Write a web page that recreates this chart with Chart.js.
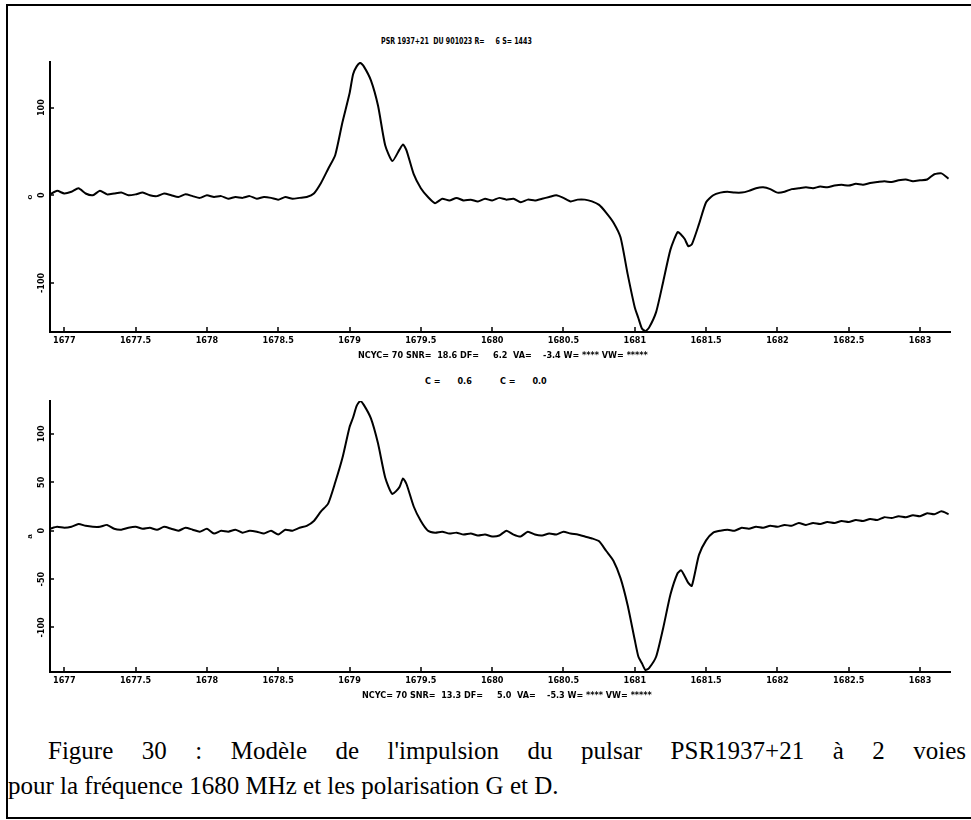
<!DOCTYPE html>
<html>
<head>
<meta charset="utf-8">
<script src="https://cdn.jsdelivr.net/npm/chart.js@4/dist/chart.umd.min.js"></script>
<style>
  html, body { margin: 0; padding: 0; background: #fff; }
  body { width: 971px; height: 820px; position: relative; overflow: hidden; }
  .frame { position: absolute; left: 6px; top: 4px; width: 990px; height: 811px;
           border-top: 2px solid #000; border-left: 2px solid #000; border-bottom: 2px solid #000; }
  .plot { position: absolute; left: 0; }
  .info { position: absolute; color: #000; white-space: pre; line-height: 10px;
          font: bold 9px "Liberation Sans Narrow", "DejaVu Sans Condensed", "Liberation Sans", sans-serif; }
  .narrow { transform: scaleX(0.78); transform-origin: 0 0; }
  .caption { position: absolute; color: #000; line-height: 26px;
             font: 25px "Liberation Serif", "Times New Roman", serif; }
  #cap1 { left: 48px; width: 918px; text-align: justify; text-align-last: justify; }
  #cap2 { left: 8px; white-space: nowrap; }
</style>
</head>
<body>
<div class="frame"></div>

<div class="info narrow" style="left:381px; top:36px;">PSR 1937+21  DU 901023 R=     6 S= 1443</div>

<canvas id="chartG" class="plot" width="971" height="320" style="top:40px;"></canvas>
<div class="info" style="left:358px; top:350px;">NCYC= 70 SNR=  18.6 DF=     6.2  VA=    -3.4 W= **** VW= *****</div>
<div class="info" style="left:425px; top:376px;">C =      0.6          C =      0.0</div>

<canvas id="chartD" class="plot" width="971" height="320" style="top:380px;"></canvas>
<div class="info" style="left:362px; top:690px;">NCYC= 70 SNR=  13.3 DF=     5.0  VA=    -5.3 W= **** VW= *****</div>

<div id="cap1" class="caption" style="top:737px;">Figure 30 : Modèle de l'impulsion du pulsar PSR1937+21 à 2 voies</div>
<div id="cap2" class="caption" style="top:772px;">pour la fréquence 1680 MHz et les polarisation G et D.</div>

<script>
// pulse phase axis (same sampling for both channels)
const phase = [
  1676.90, 1676.95, 1677.00, 1677.05, 1677.10, 1677.15, 1677.20, 1677.25, 1677.30, 1677.35,
  1677.40, 1677.45, 1677.50, 1677.55, 1677.60, 1677.65, 1677.70, 1677.75, 1677.80, 1677.85,
  1677.90, 1677.95, 1678.00, 1678.05, 1678.10, 1678.15, 1678.20, 1678.25, 1678.30, 1678.35,
  1678.40, 1678.45, 1678.50, 1678.55, 1678.60, 1678.65, 1678.70, 1678.75, 1678.80, 1678.85,
  1678.90, 1678.95, 1679.00, 1679.025, 1679.05, 1679.075, 1679.10, 1679.15, 1679.20, 1679.25,
  1679.30, 1679.35, 1679.375, 1679.40, 1679.45, 1679.50, 1679.55, 1679.60, 1679.65, 1679.70,
  1679.75, 1679.80, 1679.85, 1679.90, 1679.95, 1680.00, 1680.05, 1680.10, 1680.15, 1680.20,
  1680.25, 1680.30, 1680.35, 1680.40, 1680.45, 1680.50, 1680.55, 1680.60, 1680.65, 1680.70,
  1680.75, 1680.80, 1680.85, 1680.90, 1680.95, 1681.00, 1681.025, 1681.05, 1681.075, 1681.10,
  1681.15, 1681.20, 1681.25, 1681.30, 1681.325, 1681.35, 1681.375, 1681.40, 1681.45, 1681.50,
  1681.55, 1681.60, 1681.65, 1681.70, 1681.75, 1681.80, 1681.85, 1681.90, 1681.95, 1682.00,
  1682.05, 1682.10, 1682.15, 1682.20, 1682.25, 1682.30, 1682.35, 1682.40, 1682.45, 1682.50,
  1682.55, 1682.60, 1682.65, 1682.70, 1682.75, 1682.80, 1682.85, 1682.90, 1682.95, 1683.00,
  1683.05, 1683.10, 1683.15, 1683.20
];

// polarisation G (upper panel)
const profileG = [
  1, 5, 2, 4, 8, 2, 0, 5, 1, 2,
  3, 0, 1, 3, 0, -1, 2, 0, -2, 1,
  -1, -3, 0, -2, -1, -4, -2, -3, -1, -4,
  -2, -3, -5, -2, -4, -3, -2, 2, 14, 30,
  46, 83, 116, 138, 147, 151, 147, 131, 102, 57,
  39, 52, 58, 51, 24, 8, -2, -9, -4, -6,
  -3, -6, -5, -7, -4, -6, -3, -5, -4, -8,
  -5, -6, -4, -2, 0, -3, -7, -5, -5, -7,
  -11, -20, -31, -48, -90, -128, -140, -152, -155, -151,
  -133, -98, -62, -42, -45, -50, -58, -56, -33, -8,
  0, 3, 4, 3, 3, 5, 8, 9, 7, 3,
  4, 7, 8, 9, 8, 10, 9, 11, 12, 11,
  13, 12, 14, 15, 16, 15, 17, 18, 16, 17,
  18, 24, 25, 19
];

// polarisation D (lower panel)
const profileD = [
  2, 4, 3, 4, 7, 5, 4, 4, 6, 2,
  1, 3, 4, 2, 3, 1, 4, 2, 0, 3,
  1, -1, 2, -3, 0, -1, 1, -2, 0, -1,
  -3, 0, -4, 1, 0, 3, 5, 10, 20, 28,
  50, 75, 107, 117, 129, 134, 130, 116, 90, 55,
  38, 45, 54, 48, 25, 10, 0, -2, -1, -3,
  -2, -4, -3, -5, -4, -6, -5, 0, -4, -6,
  -1, -4, -5, -3, -4, -1, -3, -4, -6, -8,
  -11, -21, -31, -49, -77, -113, -130, -137, -144, -142,
  -130, -100, -66, -44, -41, -47, -54, -57, -25, -10,
  -2, 0, 1, 0, 3, 2, 4, 3, 5, 4,
  6, 5, 8, 6, 8, 7, 9, 8, 10, 9,
  11, 10, 12, 11, 14, 13, 15, 14, 16, 15,
  18, 17, 20, 17
];

const xTickValues = [1677, 1677.5, 1678, 1678.5, 1679, 1679.5, 1680, 1680.5, 1681, 1681.5, 1682, 1682.5, 1683];
const xTickLabels = ["1677", "1677.5", "1678", "1678.5", "1679", "1679.5", "1680", "1680.5", "1681", "1681.5", "1682", "1682.5", "1683"];

const yTicksG = [-100, 0, 100];
const yLabelsG = ["-100", "0", "100"];
const yTicksD = [-100, -50, 0, 50, 100];
const yLabelsD = ["-100", "-50", "0", "50", "100"];

const tickFont = { family: "'Liberation Sans Narrow', 'DejaVu Sans Condensed', 'Liberation Sans', sans-serif", size: 9, weight: "bold" };

// inward tick marks and rotated y labels, like the old plotter output
function axisMarks(yLabels) {
  return {
    id: "axisMarks",
    afterDraw(chart) {
      const { ctx, chartArea, scales } = chart;
      ctx.save();
      ctx.strokeStyle = "#000";
      ctx.lineWidth = 1.5;
      ctx.beginPath();
      scales.x.ticks.forEach((t) => {
        const px = Math.round(scales.x.getPixelForValue(t.value));
        ctx.moveTo(px, chartArea.bottom);
        ctx.lineTo(px, chartArea.bottom - 5);
      });
      scales.y.ticks.forEach((t) => {
        const py = Math.round(scales.y.getPixelForValue(t.value));
        ctx.moveTo(chartArea.left, py);
        ctx.lineTo(chartArea.left + 4, py);
      });
      ctx.stroke();

      ctx.fillStyle = "#000";
      ctx.font = "bold 9px " + tickFont.family;
      ctx.textAlign = "center";
      ctx.textBaseline = "middle";
      scales.y.ticks.forEach((t, i) => {
        const py = scales.y.getPixelForValue(t.value);
        ctx.save();
        ctx.translate(chartArea.left - 8, py);
        ctx.rotate(-Math.PI / 2);
        ctx.fillText(yLabels[i], 0, 0);
        ctx.restore();
      });
      ctx.restore();
    },
  };
}

function makeChart(canvasId, values, yMin, yMax, yTicks, yLabels, yTitle, padTop) {
  const ctx = document.getElementById(canvasId).getContext("2d");
  return new Chart(ctx, {
    type: "line",
    data: {
      datasets: [
        {
          data: phase.map((p, i) => ({ x: p, y: values[i] })),
          borderColor: "#000",
          borderWidth: 2,
          pointRadius: 0,
          tension: 0.2,
          fill: false,
        },
      ],
    },
    options: {
      responsive: false,
      animation: false,
      layout: { padding: { top: padTop, right: 21, left: 0, bottom: 0 } },
      plugins: { legend: { display: false }, tooltip: { enabled: false } },
      scales: {
        x: {
          type: "linear",
          min: 1676.9,
          max: 1683.21,
          afterBuildTicks: (scale) => {
            scale.ticks = xTickValues.map((v) => ({ value: v }));
          },
          afterFit: (scale) => {
            scale.height = 28;
          },
          grid: { display: false, drawTicks: false },
          border: { display: true, color: "#000", width: 2 },
          ticks: {
            autoSkip: false,
            maxRotation: 0,
            padding: 3,
            color: "#000",
            font: tickFont,
            callback: (value, index) => xTickLabels[index],
          },
        },
        y: {
          min: yMin,
          max: yMax,
          afterBuildTicks: (scale) => {
            scale.ticks = yTicks.map((v) => ({ value: v }));
          },
          afterFit: (scale) => {
            scale.width = 50;
          },
          grid: { display: false, drawTicks: false },
          border: { display: true, color: "#000", width: 2 },
          ticks: { display: false },
          title: {
            display: true,
            text: yTitle,
            color: "#000",
            font: { size: 8, weight: "bold" },
            padding: { top: 25, bottom: 0 },
          },
        },
      },
    },
    plugins: [axisMarks(yLabels)],
  });
}

makeChart("chartG", profileG, -156, 152, yTicksG, yLabelsG, "o", 22);
makeChart("chartD", profileD, -146, 134, yTicksD, yLabelsD, "a", 21);
</script>
</body>
</html>
